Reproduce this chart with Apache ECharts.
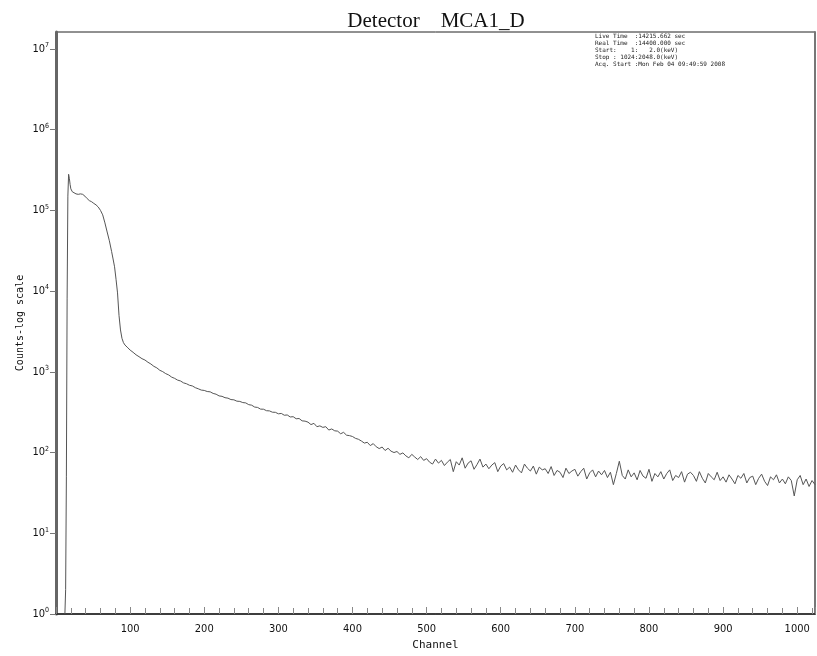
<!DOCTYPE html>
<html>
<head>
<meta charset="utf-8">
<script src="https://cdn.jsdelivr.net/npm/echarts@6/dist/echarts.min.js"></script>
<style>
  html, body { margin: 0; padding: 0; background: #fff; }
  #main { width: 817px; height: 656px; }
</style>
</head>
<body>
<div id="main"></div>
<script>
// 谱数据: 峰区 [channel, counts]
var headData = [
  [12, 1], [13, 2], [14, 50], [15, 8000], [16, 150000], [17, 280000], [18, 250000],
  [19, 210000], [20, 185000], [22, 170000], [24, 165000], [27, 160000], [30, 158000],
  [33, 160000], [36, 158000], [39, 150000], [42, 140000], [45, 132000], [48, 128000],
  [51, 122000], [54, 117000], [57, 110000], [60, 100000], [63, 88000], [66, 70000],
  [69, 54000], [72, 42000], [75, 31000], [77, 25000], [79, 20000], [81, 14000],
  [83, 9500], [85, 5000], [87, 3300], [89, 2600], [91, 2300], [93, 2150], [95, 2050], [97, 1980]
];

// 尾部: 从 channel 100 起每 4 道一个点
var tailStart = 100;
var tailStep = 4;
var tailCounts = [
  1860, 1745, 1625, 1540, 1455, 1400, 1315, 1250, 1170, 1120,
  1045, 1005, 950, 915, 860, 830, 790, 770, 730, 712,
  682, 668, 636, 616, 594, 588, 570, 565, 540, 528,
  503, 497, 478, 472, 453, 450, 433, 430, 416, 412,
  392, 386, 366, 362, 345, 344, 330, 328, 316, 315,
  302, 305, 290, 292, 276, 278, 262, 264, 247, 245,
  238, 222, 230, 209, 214, 205, 209, 190, 196, 186,
  184, 171, 178, 164, 162, 158, 150, 146, 139, 131,
  134, 122, 129, 118, 112, 117, 106, 113, 104, 100,
  103, 95, 99, 91, 86, 95, 88, 82, 89, 80,
  84, 76, 72, 83, 74, 80, 69, 76, 82, 58,
  77, 70, 86, 64, 74, 79, 62, 71, 83, 66,
  72, 63, 70, 75, 58, 68, 73, 61, 66, 57,
  70, 61, 56, 72, 64, 59, 68, 54, 66, 61,
  63, 55, 67, 52, 60, 57, 49, 64, 55, 59,
  62, 51, 58, 64, 47, 56, 61, 50, 59, 53,
  60, 49, 57, 40, 55, 78, 52, 47, 61, 50,
  56, 46, 60, 51, 48, 62, 44, 55, 50, 58,
  47, 55, 61, 45, 52, 49, 58, 43, 54, 57,
  52, 44, 58, 48, 42, 55, 50, 46, 57, 45,
  50, 43, 53, 47, 41, 52, 48, 55, 42, 49,
  51, 40, 48, 54, 44, 39, 50, 46, 53, 42,
  47, 41, 50, 45, 29, 46, 52, 40, 47, 38,
  45, 40
];

var infoLines = [
  'Live Time  :14215.662 sec',
  'Real Time  :14400.000 sec',
  'Start:    1:   2.0(keV)',
  'Stop : 1024:2048.0(keV)',
  'Acq. Start :Mon Feb 04 09:49:59 2008'
];

var spectrum = headData.concat(tailCounts.map(function (v, i) {
  return [tailStart + i * tailStep, v];
}));

var myChart = echarts.init(document.getElementById('main'));

var option = {
  animation: false,
  backgroundColor: '#fff',
  title: {
    text: 'Detector    MCA1_D',
    left: 431,
    textAlign: 'center',
    top: 6,
    textStyle: { fontFamily: 'Liberation Serif', fontSize: 21, fontWeight: 'normal', color: '#111' }
  },
  graphic: [{
    type: 'text',
    left: 595,
    top: 33,
    style: {
      text: infoLines.join('\n'),
      font: '6px "DejaVu Sans Mono"',
      lineHeight: 7,
      fill: '#222'
    }
  }],
  grid: {
    left: 56, right: 2, top: 32, bottom: 42,
    show: true, borderColor: '#222', borderWidth: 1, backgroundColor: '#fff'
  },
  xAxis: {
    type: 'value',
    min: 0,
    max: 1024,
    interval: 100,
    name: 'Channel',
    nameLocation: 'middle',
    nameGap: 26,
    nameTextStyle: { fontFamily: 'DejaVu Sans Mono', fontSize: 11, color: '#111' },
    axisLine: { lineStyle: { color: '#222', width: 1.5 } },
    axisTick: { inside: true, length: 7, lineStyle: { color: '#888' } },
    minorTick: { show: true, splitNumber: 5, length: 6, lineStyle: { color: '#888' } },
    splitLine: { show: false },
    axisLabel: {
      margin: 10, showMinLabel: false, showMaxLabel: false,
      formatter: function (v) { return String(v); },
      fontFamily: 'DejaVu Sans Condensed', fontSize: 11, color: '#111'
    }
  },
  yAxis: [{
    type: 'log',
    logBase: 10,
    min: 1,
    max: 16200000,
    name: 'Counts-log scale',
    nameLocation: 'middle',
    nameGap: 31,
    nameMoveOverlap: false,
    nameTextStyle: { fontFamily: 'DejaVu Sans Mono', fontSize: 10, color: '#111' },
    axisLine: { show: true, lineStyle: { color: '#666', width: 3 } },
    axisTick: { length: 6, lineStyle: { color: '#777' } },
    splitLine: { show: false },
    axisLabel: {
      margin: 7,
      showMaxLabel: false,
      formatter: function (v) {
        var e = Math.round(Math.log10(v));
        return '{b|10}{s|' + e + '}';
      },
      rich: {
        b: { fontFamily: 'DejaVu Sans Condensed', fontSize: 11, color: '#111', lineHeight: 14 },
        s: { fontFamily: 'DejaVu Sans Condensed', fontSize: 7, color: '#111', lineHeight: 14, verticalAlign: 'top' }
      }
    }
  }, {
    type: 'log',
    position: 'right',
    min: 1,
    max: 16200000,
    axisLine: { show: true, lineStyle: { color: '#777', width: 2 } },
    axisTick: { show: false },
    axisLabel: { show: false },
    splitLine: { show: false }
  }],
  series: [{
    type: 'line',
    data: spectrum,
    showSymbol: false,
    lineStyle: { color: '#555', width: 1 }
  }]
};

myChart.setOption(option);
</script>
</body>
</html>
